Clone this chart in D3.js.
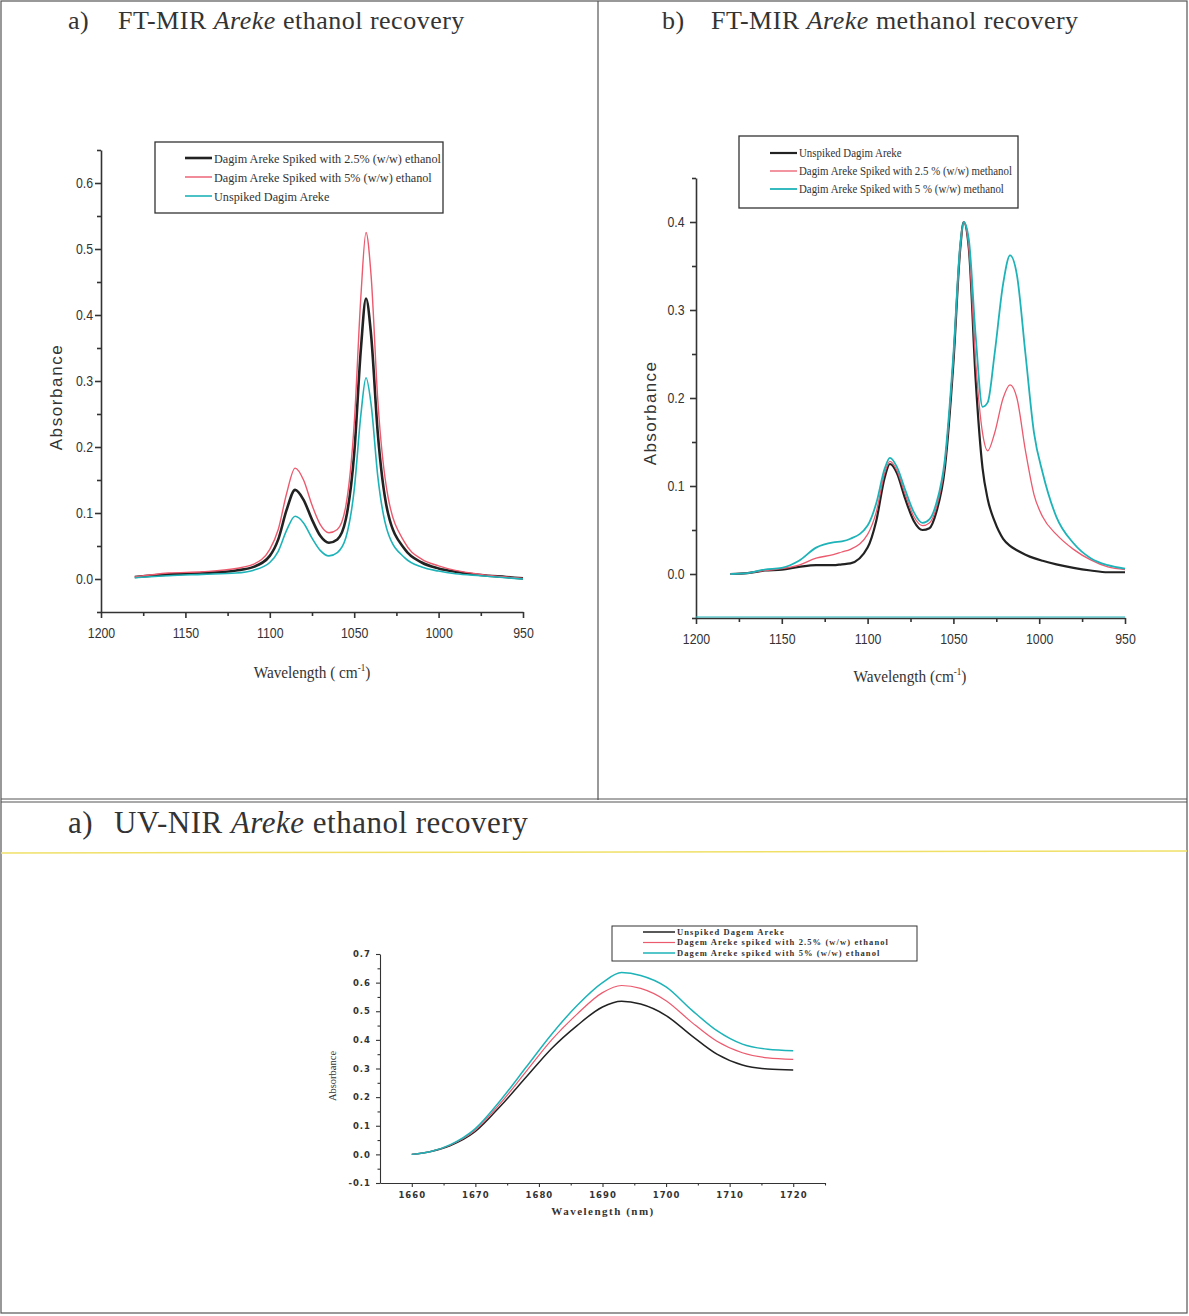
<!DOCTYPE html>
<html lang="en">
<head>
    <meta charset="UTF-8">
    <title>Areke recovery spectra</title>
    <style>
        body { margin: 0; background: #fff; }
        svg text { fill: #333; }
    </style>
</head>
<body>
    <svg width="1189" height="1316"></svg>

    <script src="https://d3js.org/d3.v7.min.js"></script>
    <script>
        // ---- a) FT-MIR ethanol recovery ----
        let mirWaveA = [1180, 1160, 1140, 1120, 1110, 1100, 1095, 1090, 1085, 1080, 1075, 1070, 1065, 1060, 1055, 1050, 1046, 1043, 1040, 1036, 1030, 1020, 1010, 1000, 990, 975, 960, 950];
        let mirEthanol25 = [0.003, 0.007, 0.009, 0.013, 0.018, 0.035, 0.06, 0.105, 0.135, 0.12, 0.09, 0.065, 0.055, 0.06, 0.09, 0.19, 0.35, 0.425, 0.37, 0.22, 0.10, 0.045, 0.025, 0.016, 0.011, 0.006, 0.003, 0.001];
        let mirEthanol5 = [0.003, 0.009, 0.011, 0.016, 0.022, 0.045, 0.075, 0.13, 0.168, 0.15, 0.112, 0.082, 0.07, 0.075, 0.11, 0.235, 0.43, 0.525, 0.46, 0.27, 0.125, 0.055, 0.03, 0.02, 0.013, 0.007, 0.003, 0.001];
        let mirEthanolUnspiked = [0.002, 0.005, 0.007, 0.009, 0.013, 0.025, 0.042, 0.074, 0.095, 0.085, 0.062, 0.043, 0.035, 0.04, 0.062, 0.135, 0.25, 0.305, 0.265, 0.155, 0.07, 0.032, 0.018, 0.012, 0.008, 0.005, 0.002, 0.0];
        let legendA = ["Dagim Areke Spiked with 2.5% (w/w) ethanol", "Dagim Areke Spiked with 5% (w/w) ethanol", "Unspiked Dagim Areke"];

        // ---- b) FT-MIR methanol recovery ----
        let mirWaveB = [1180, 1170, 1160, 1150, 1140, 1130, 1120, 1115, 1110, 1100, 1095, 1090, 1087, 1083, 1078, 1073, 1068, 1064, 1060, 1055, 1050, 1046, 1044, 1041, 1037, 1033, 1030, 1026, 1021, 1017, 1013, 1008, 1003, 998, 990, 980, 970, 960, 950];
        let mirMethUnspiked = [0.0, 0.001, 0.004, 0.005, 0.008, 0.01, 0.01, 0.011, 0.012, 0.03, 0.06, 0.11, 0.125, 0.115, 0.085, 0.06, 0.05, 0.052, 0.07, 0.12, 0.24, 0.37, 0.40, 0.37, 0.22, 0.12, 0.085, 0.06, 0.04, 0.032, 0.027, 0.022, 0.018, 0.015, 0.011, 0.007, 0.004, 0.002, 0.002];
        let mirMeth25 = [0.0, 0.001, 0.004, 0.006, 0.01, 0.018, 0.022, 0.025, 0.028, 0.045, 0.07, 0.115, 0.128, 0.118, 0.09, 0.065, 0.055, 0.058, 0.075, 0.125, 0.245, 0.37, 0.40, 0.37, 0.24, 0.16, 0.14, 0.16, 0.20, 0.215, 0.20, 0.14, 0.09, 0.065, 0.045, 0.028, 0.016, 0.008, 0.005];
        let mirMeth5 = [0.0, 0.001, 0.005, 0.007, 0.015, 0.03, 0.036, 0.037, 0.04, 0.055, 0.08, 0.12, 0.132, 0.122, 0.095, 0.07, 0.058, 0.062, 0.08, 0.13, 0.25, 0.375, 0.40, 0.38, 0.27, 0.19, 0.195, 0.25, 0.33, 0.362, 0.34, 0.25, 0.16, 0.115, 0.065, 0.035, 0.018, 0.01, 0.006];
        let legendB = ["Unspiked Dagim Areke", "Dagim Areke Spiked with 2.5 % (w/w) methanol", "Dagim Areke Spiked with 5 % (w/w) methanol"];

        // ---- UV-NIR ethanol recovery ----
        let nirWave = [1660, 1663, 1666, 1670, 1674, 1678, 1682, 1686, 1690, 1693, 1696, 1700, 1704, 1708, 1712, 1716, 1720];
        let nirUnspiked = [0.0, 0.01, 0.03, 0.08, 0.17, 0.27, 0.37, 0.45, 0.515, 0.535, 0.525, 0.485, 0.415, 0.35, 0.312, 0.298, 0.295];
        let nir25 = [0.0, 0.01, 0.032, 0.085, 0.18, 0.29, 0.40, 0.49, 0.565, 0.59, 0.58, 0.537, 0.462, 0.395, 0.355, 0.337, 0.332];
        let nir5 = [0.0, 0.01, 0.033, 0.09, 0.19, 0.305, 0.42, 0.52, 0.60, 0.635, 0.625, 0.585, 0.505, 0.432, 0.385, 0.367, 0.362];
        let legendC = ["Unspiked Dagem Areke", "Dagem Areke spiked with 2.5% (w/w) ethanol", "Dagem Areke spiked with 5% (w/w) ethanol"];

        // ticks
        let mirTicks = [1200, 1150, 1100, 1050, 1000, 950];
        let mirMinor = [1175, 1125, 1075, 1025, 975];
        let yTicksA = [0.0, 0.1, 0.2, 0.3, 0.4, 0.5, 0.6];
        let yTicksB = [0.0, 0.1, 0.2, 0.3, 0.4];
        let nirTicks = [1660, 1670, 1680, 1690, 1700, 1710, 1720];
        let yTicksC = [-0.1, 0.0, 0.1, 0.2, 0.3, 0.4, 0.5, 0.6, 0.7];

        let black = "#222", red = "#ec5a6e", cyan = "#1db3b8";
        let svg = d3.select("svg");

        // ---- page frames ----
        let frame = svg.append("g").attr("fill", "none").attr("stroke", "#555");
        frame.append("rect").attr("x", 1).attr("y", 1).attr("width", 1186).attr("height", 1312).attr("stroke-width", 1.2);
        frame.append("line").attr("x1", 598).attr("x2", 598).attr("y1", 1).attr("y2", 800).attr("stroke-width", 1.2);
        frame.append("line").attr("x1", 1).attr("x2", 1187).attr("y1", 799).attr("y2", 799).attr("stroke-width", 1);
        frame.append("line").attr("x1", 1).attr("x2", 1187).attr("y1", 802).attr("y2", 802).attr("stroke-width", 1.2);
        svg.append("line").attr("x1", 1).attr("x2", 1187).attr("y1", 853).attr("y2", 851)
            .attr("stroke", "#f0e068").attr("stroke-width", 1.5);

        // ---- titles ----
        function title(x, y, size, gap, label, rest) {
            let t = svg.append("text").attr("y", y)
                .style("font-family", "'Liberation Serif', serif").style("font-size", size + "px")
                .style("letter-spacing", "0.5px");
            t.append("tspan").attr("x", x).text(label + ")");
            t.append("tspan").attr("x", x + gap).text(rest[0] + " ");
            t.append("tspan").style("font-style", "italic").text("Areke");
            t.append("tspan").text(" " + rest[1]);
        }
        title(68, 29, 26, 50, "a", ["FT-MIR", "ethanol recovery"]);
        title(662, 29, 26, 49, "b", ["FT-MIR", "methanol recovery"]);
        title(68, 833, 31, 46, "a", ["UV-NIR", "ethanol recovery"]);

        function fmt(d) { return (Math.abs(d) < 1e-9 ? 0 : d).toFixed(1); }

        function drawSpectrum(o) {
            let g = svg.append("g");
            let x = d3.scaleLinear().domain(o.xDomain).range(o.xRange);
            let y = d3.scaleLinear().domain(o.yDomain).range(o.yRange);

            // minor ticks
            g.append("g").attr("transform", "translate(0," + o.yRange[0] + ")")
                .call(d3.axisBottom(x).tickValues(o.xMinor).tickSize(o.minor).tickFormat(""))
                .call(a => a.select(".domain").remove());
            g.append("g").attr("transform", "translate(" + o.xRange[0] + ",0)")
                .call(d3.axisLeft(y).tickValues(o.yMinor).tickSize(o.minor).tickFormat(""))
                .call(a => a.select(".domain").remove());

            let xa = g.append("g").attr("transform", "translate(0," + o.yRange[0] + ")")
                .call(d3.axisBottom(x).tickValues(o.xTicks).tickSize(o.major).tickSizeOuter(0).tickPadding(o.padX).tickFormat(d3.format("d")));
            let ya = g.append("g").attr("transform", "translate(" + o.xRange[0] + ",0)")
                .call(d3.axisLeft(y).tickValues(o.yTicks).tickSize(o.major).tickSizeOuter(0).tickPadding(o.padY).tickFormat(fmt));
            [xa, ya].forEach(a => {
                a.selectAll("path, line").attr("stroke", "#333").attr("stroke-width", o.axisWidth);
                a.selectAll("text").attr("fill", "#2a2a2a")
                    .attr("transform", "scale(" + o.tickSx + ",1)")
                    .style("font-family", o.tickFont).style("font-size", o.tickSize + "px")
                    .style("font-weight", o.tickWeight).style("letter-spacing", o.tickSpacing + "px");
            });
            g.selectAll("line").attr("stroke", "#333").attr("stroke-width", o.axisWidth);

            if (o.baseline) {
                g.append("line").attr("x1", o.xRange[0]).attr("x2", o.xRange[1])
                    .attr("y1", o.yRange[0] - 1).attr("y2", o.yRange[0] - 1)
                    .attr("stroke", o.baseline).attr("stroke-width", 1.2);
            }

            let line = d3.line().curve(d3.curveMonotoneX)
                .x(d => x(d[0])).y(d => y(d[1]));
            o.series.forEach(s => {
                g.append("path").datum(d3.zip(s.wave, s.values))
                    .attr("fill", "none").attr("stroke", s.color)
                    .attr("stroke-width", s.width).attr("d", line);
            });

            // legend
            let L = o.legend;
            g.append("rect").attr("x", L.x).attr("y", L.y).attr("width", L.w).attr("height", L.h)
                .attr("fill", "#fff").attr("stroke", "#333").attr("stroke-width", L.border);
            o.series.forEach((s, i) => {
                let ly = L.rowY[i];
                g.append("line").attr("x1", L.lx0).attr("x2", L.lx1).attr("y1", ly).attr("y2", ly)
                    .attr("stroke", s.color).attr("stroke-width", s.width);
                g.append("text")
                    .attr("transform", "translate(" + (L.lx1 + 2) + "," + (ly + L.size * 0.35) + ") scale(" + L.sx + ",1)")
                    .style("font-family", "'Liberation Serif', serif").style("font-size", L.size + "px")
                    .style("font-weight", L.weight).style("letter-spacing", L.spacing + "px")
                    .attr("fill", "#1e1e1e").text(L.labels[i]);
            });

            // axis titles
            g.append("text").attr("transform", "translate(" + o.yTitle.x + "," + o.yTitle.y + ") rotate(-90)")
                .attr("text-anchor", "middle")
                .style("font-family", o.yTitle.font).style("font-size", o.yTitle.size + "px")
                .style("letter-spacing", o.yTitle.spacing + "px")
                .text("Absorbance");
            let xt = g.append("text")
                .attr("transform", "translate(" + o.xTitle.x + "," + o.xTitle.y + ") scale(" + o.xTitle.sx + ",1)")
                .attr("text-anchor", "middle")
                .style("font-family", "'Liberation Serif', serif").style("font-size", o.xTitle.size + "px")
                .style("font-weight", o.xTitle.weight).style("letter-spacing", o.xTitle.spacing + "px");
            if (o.xTitle.unit === "nm") {
                xt.text("Wavelength (nm)");
            } else {
                xt.append("tspan").text(o.xTitle.unit);
                xt.append("tspan").attr("dy", -7).style("font-size", "10px").text("-1");
                xt.append("tspan").attr("dy", 7).text(")");
            }
        }

        let mirTickFont = "'Liberation Sans', Arial, sans-serif";

        drawSpectrum({
            xDomain: [1200, 950], xRange: [101, 523],
            yDomain: [-0.05, 0.65], yRange: [612, 150],
            xTicks: mirTicks, xMinor: mirMinor,
            yTicks: yTicksA, yMinor: [-0.05, 0.05, 0.15, 0.25, 0.35, 0.45, 0.55, 0.65],
            major: 6, minor: 4, padX: 10, padY: 3, axisWidth: 1.6,
            tickFont: mirTickFont, tickSize: 14, tickSx: 0.88, tickWeight: "normal", tickSpacing: 0,
            series: [
                { wave: mirWaveA, values: mirEthanol25, color: black, width: 2.6 },
                { wave: mirWaveA, values: mirEthanol5, color: red, width: 1.4 },
                { wave: mirWaveA, values: mirEthanolUnspiked, color: cyan, width: 1.6 }
            ],
            legend: { x: 155, y: 142, w: 288, h: 71, border: 1.3, lx0: 185, lx1: 212, rowY: [158, 177, 196],
                size: 13, sx: 0.94, weight: "normal", spacing: 0, labels: legendA },
            yTitle: { x: 62, y: 397, size: 17, spacing: 1.6, font: "'Liberation Sans', Arial, sans-serif" },
            xTitle: { x: 312, y: 678, size: 17, sx: 0.9, weight: "normal", spacing: 0, unit: "Wavelength ( cm" }
        });

        drawSpectrum({
            xDomain: [1200, 950], xRange: [696, 1125],
            yDomain: [-0.05, 0.45], yRange: [618, 178],
            xTicks: mirTicks, xMinor: mirMinor,
            yTicks: yTicksB, yMinor: [-0.05, 0.05, 0.15, 0.25, 0.35, 0.45],
            major: 6, minor: 4, padX: 10, padY: 7, axisWidth: 1.6,
            tickFont: mirTickFont, tickSize: 14, tickSx: 0.88, tickWeight: "normal", tickSpacing: 0,
            baseline: cyan,
            series: [
                { wave: mirWaveB, values: mirMethUnspiked, color: black, width: 2.2 },
                { wave: mirWaveB, values: mirMeth25, color: red, width: 1.3 },
                { wave: mirWaveB, values: mirMeth5, color: cyan, width: 1.8 }
            ],
            legend: { x: 739, y: 136, w: 279, h: 72, border: 1.3, lx0: 770, lx1: 797, rowY: [153, 171, 189],
                size: 12.5, sx: 0.87, weight: "normal", spacing: 0, labels: legendB },
            yTitle: { x: 656, y: 413, size: 17, spacing: 1.4, font: "'Liberation Sans', Arial, sans-serif" },
            xTitle: { x: 910, y: 682, size: 17, sx: 0.9, weight: "normal", spacing: 0, unit: "Wavelength (cm" }
        });

        drawSpectrum({
            xDomain: [1655, 1725], xRange: [380, 825],
            yDomain: [-0.1, 0.7], yRange: [1183, 954],
            xTicks: nirTicks, xMinor: [1665, 1675, 1685, 1695, 1705, 1715, 1725],
            yTicks: yTicksC, yMinor: [-0.05, 0.05, 0.15, 0.25, 0.35, 0.45, 0.55, 0.65],
            major: 4, minor: 2.5, padX: 5, padY: 5, axisWidth: 1.1,
            tickFont: "'DejaVu Sans', sans-serif", tickSize: 8.5, tickSx: 1, tickWeight: "bold", tickSpacing: 1,
            series: [
                { wave: nirWave, values: nirUnspiked, color: black, width: 1.5 },
                { wave: nirWave, values: nir25, color: red, width: 1.2 },
                { wave: nirWave, values: nir5, color: cyan, width: 1.5 }
            ],
            legend: { x: 612, y: 926, w: 305, h: 35, border: 1, lx0: 643, lx1: 675, rowY: [932, 942.5, 953],
                size: 8.5, sx: 1, weight: "bold", spacing: 1.1, labels: legendC },
            yTitle: { x: 336, y: 1076, size: 10.5, spacing: 0, font: "'Liberation Serif', serif" },
            xTitle: { x: 603, y: 1215, size: 11, sx: 1, weight: "bold", spacing: 1.5, unit: "nm" }
        });
    </script>
</body>
</html>
